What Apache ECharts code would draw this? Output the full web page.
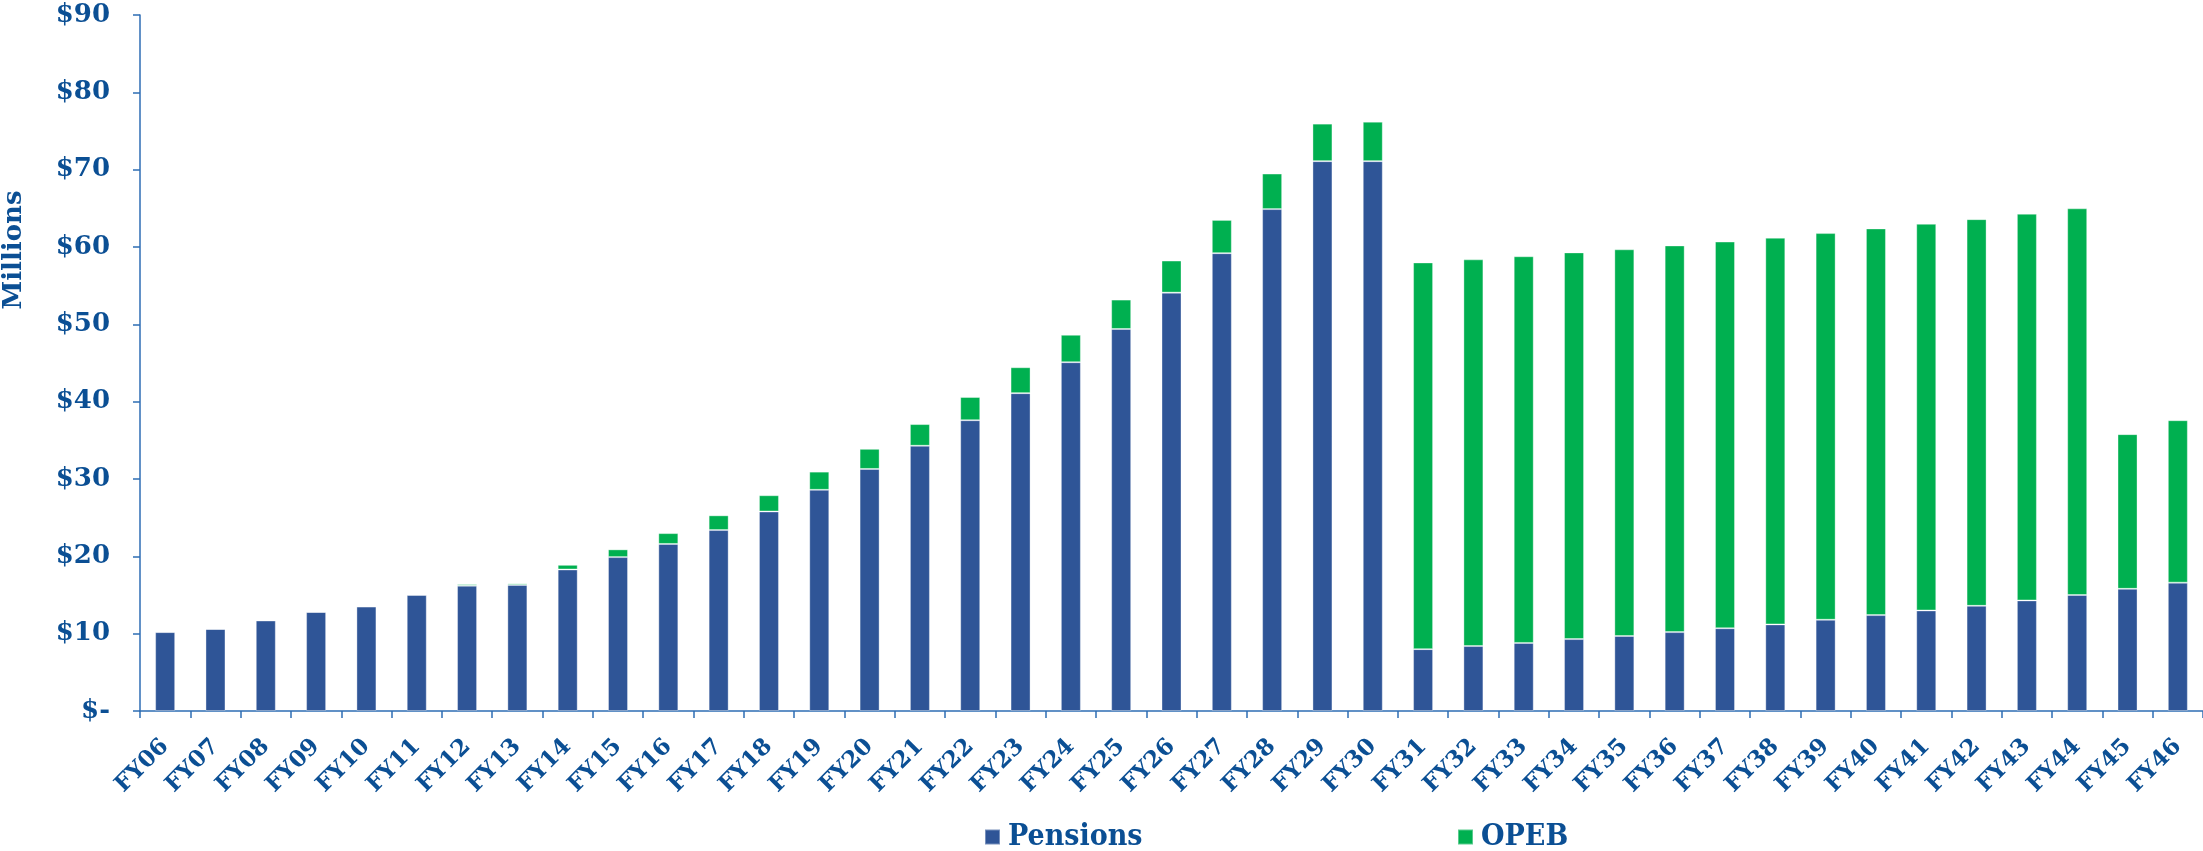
<!DOCTYPE html>
<html>
<head>
<meta charset="utf-8">
<title>Pensions and OPEB</title>
<script src="https://cdn.jsdelivr.net/npm/echarts@6/dist/echarts.min.js"></script>
<style>
  html, body { margin: 0; padding: 0; background: #fff; }
  #chart { width: 2203px; height: 851px; }
</style>
</head>
<body>
<div id="chart"></div>
<script>
// fiscal years
var years = ['FY06', 'FY07', 'FY08', 'FY09', 'FY10', 'FY11', 'FY12', 'FY13', 'FY14', 'FY15',
  'FY16', 'FY17', 'FY18', 'FY19', 'FY20', 'FY21', 'FY22', 'FY23', 'FY24', 'FY25',
  'FY26', 'FY27', 'FY28', 'FY29', 'FY30', 'FY31', 'FY32', 'FY33', 'FY34', 'FY35',
  'FY36', 'FY37', 'FY38', 'FY39', 'FY40', 'FY41', 'FY42', 'FY43', 'FY44', 'FY45', 'FY46']

// $ millions
var pensions = [10.2, 10.6, 11.7, 12.8, 13.5, 15.0, 16.2, 16.3, 18.3, 19.9,
  21.6, 23.4, 25.8, 28.6, 31.3, 34.3, 37.6, 41.1, 45.1, 49.4,
  54.1, 59.2, 64.9, 71.1, 71.1, 8.0, 8.4, 8.8, 9.3, 9.7,
  10.2, 10.7, 11.2, 11.8, 12.4, 13.0, 13.6, 14.3, 15.0, 15.8, 16.6]

var opeb = [0, 0, 0, 0, 0, 0.1, 0.2, 0.2, 0.6, 1.0,
  1.4, 1.9, 2.1, 2.35, 2.6, 2.8, 3.0, 3.35, 3.55, 3.8,
  4.15, 4.3, 4.6, 4.85, 5.1, 50, 50, 50, 50, 50,
  50, 50, 50, 50, 50, 50, 50, 50, 50, 20, 21]

var yTicks = { min: 0, max: 90, step: 10 }

var textColor = '#0B4F94'
var lineColor = '#2E6DB4'
var fontFam = '"DejaVu Serif", serif'

var chart = echarts.init(document.getElementById('chart'))

var legendText = {
  color: textColor,
  fontFamily: '"DejaVu Serif Condensed", serif',
  fontWeight: 'bold',
  fontSize: 30,
  padding: [0, 0, 0, 3]
}

var option = {
  animation: false,
  grid: {
    left: 140,
    right: 0,
    top: 15,
    height: 696
  },
  legend: [
    {
      data: ['Pensions'],
      left: 984,
      top: 822,
      padding: 0,
      icon: 'rect',
      itemWidth: 15,
      itemHeight: 15,
      textStyle: legendText
    },
    {
      data: ['OPEB'],
      left: 1457,
      top: 822,
      padding: 0,
      icon: 'rect',
      itemWidth: 15,
      itemHeight: 15,
      textStyle: legendText
    }
  ],
  xAxis: {
    type: 'category',
    data: years,
    axisLine: { show: true, lineStyle: { color: lineColor, width: 1.5 } },
    axisTick: { show: true, length: 7, lineStyle: { color: lineColor, width: 1.5 } },
    axisLabel: {
      rotate: 45,
      interval: 0,
      margin: 32,
      color: textColor,
      fontFamily: fontFam,
      fontWeight: 'bold',
      fontSize: 23
    }
  },
  yAxis: {
    type: 'value',
    min: yTicks.min,
    max: yTicks.max,
    interval: yTicks.step,
    splitLine: { show: false },
    axisLine: { show: true, lineStyle: { color: lineColor, width: 1.5 } },
    axisTick: { show: true, length: 7, lineStyle: { color: lineColor, width: 1.5 } },
    axisLabel: {
      margin: 30,
      color: textColor,
      fontFamily: fontFam,
      fontWeight: 'bold',
      fontSize: 26,
      formatter: function(v) {
        return v === 0 ? '$-' : '$' + v
      }
    }
  },
  graphic: [
    {
      type: 'text',
      x: 14,
      y: 250,
      rotation: Math.PI / 2,
      style: {
        text: 'Millions',
        fill: textColor,
        font: 'bold 26px "DejaVu Serif", serif',
        align: 'center',
        verticalAlign: 'middle'
      }
    }
  ],
  series: [
    {
      name: 'Pensions',
      type: 'bar',
      stack: 'total',
      barWidth: 20,
      itemStyle: {
        color: '#2F5597',
        borderColor: 'rgba(255,255,255,0.35)',
        borderWidth: 1
      },
      data: pensions
    },
    {
      name: 'OPEB',
      type: 'bar',
      stack: 'total',
      barWidth: 20,
      itemStyle: {
        color: '#00B050',
        borderColor: 'rgba(255,255,255,0.35)',
        borderWidth: 1
      },
      data: opeb
    }
  ]
}

chart.setOption(option)
</script>
</body>
</html>
